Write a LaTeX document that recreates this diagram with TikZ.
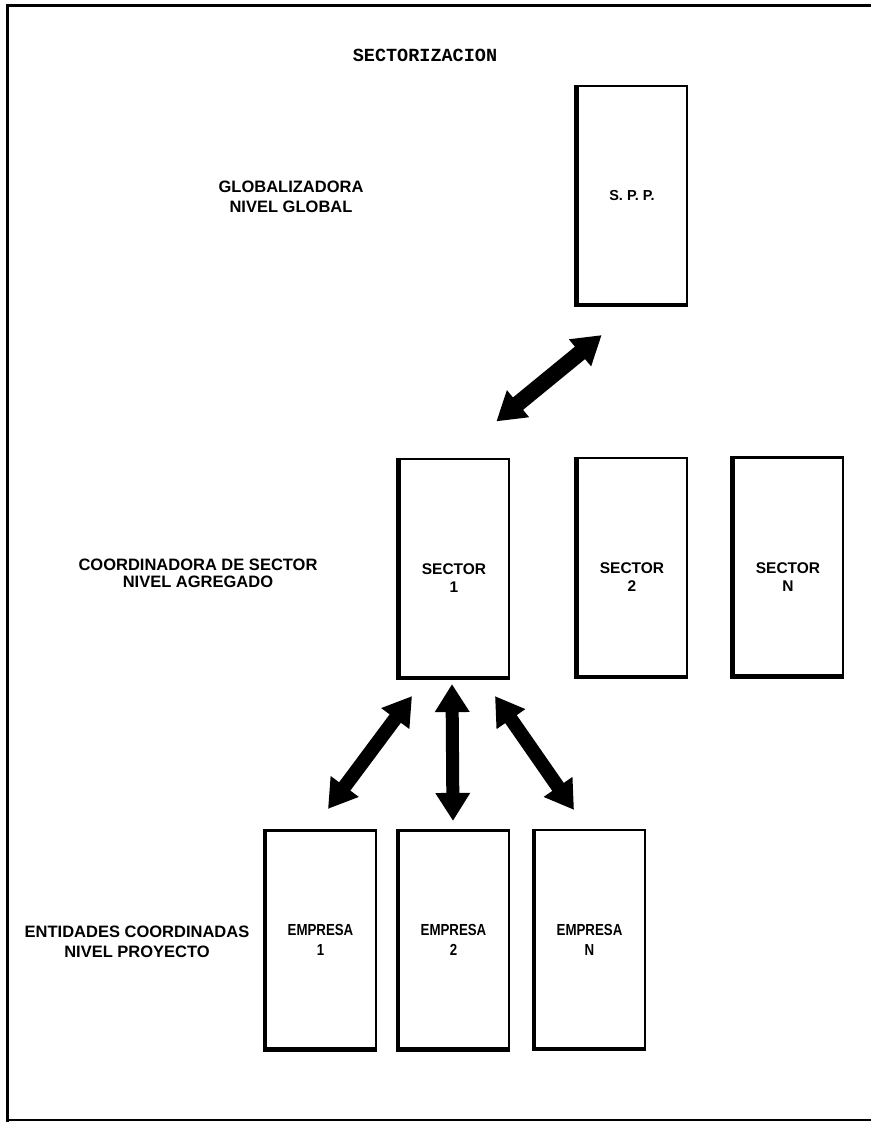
\documentclass[tikz,border=0pt]{standalone}
\usepackage{fontspec}
\setmainfont{Liberation Sans}
\newfontfamily\titlefont{Liberation Mono}
\newfontfamily\condfont[FakeStretch=0.83]{Liberation Sans}
\usetikzlibrary{arrows.meta,calc}
\begin{document}
\begin{tikzpicture}[x=1pt,y=-1pt,
  box/.style={draw,line width=2.2pt,minimum width=110.5pt,minimum height=219pt,inner sep=0pt,align=center},
  shadowline/.style={line width=4.5pt},
  side/.style={font=\bfseries\fontsize{16.5}{20}\selectfont,align=center,inner sep=0pt},
  sectxt/.style={font=\bfseries\fontsize{15.5}{18}\selectfont,align=center,inner sep=0pt},
  emptxt/.style={font=\condfont\bfseries\fontsize{16}{20}\selectfont},
  spptxt/.style={font=\bfseries\fontsize{14.5}{17}\selectfont},
  bigarrow/.style={line width=14pt,{Triangle[length=28pt,width=33pt]}-{Triangle[length=28pt,width=33pt]}},
  framebar/.style={line width=3pt}
]
\useasboundingbox (0,0) rectangle (871,1122);
% frame
\draw[framebar] (7,1122) -- (7,5) -- (871,5);
\draw[line width=1.6pt] (7,1120) -- (871,1120);

% title and level labels
\node[font=\titlefont\bfseries\fontsize{18.5}{20}\selectfont,inner sep=0pt] (title) at (425,55) {SECTORIZACION};
\node[side] (glob) at (291,197) {GLOBALIZADORA\\NIVEL GLOBAL};
\node[side,font=\bfseries\fontsize{16.5}{17}\selectfont] (coord) at (198,573.5) {COORDINADORA DE SECTOR\\NIVEL AGREGADO};
\node[side] (ent) at (137,942) {ENTIDADES COORDINADAS\\NIVEL PROYECTO};

% boxes
\node[box,spptxt] (spp) at (632,195.5) {S. P. P.};
\node[box,label={[sectxt,yshift=-10pt]center:{SECTOR\\1}}] (s1) at (454,568.5) {};
\node[box,label={[sectxt,yshift=-10pt]center:{SECTOR\\2}}] (s2) at (632,567.5) {};
\node[box,label={[sectxt,yshift=-10pt]center:{SECTOR\\N}}] (sn) at (788,567) {};
\node[box,emptxt] (e1) at (320.5,940) {EMPRESA\\1};
\node[box,emptxt] (e2) at (453.5,940) {EMPRESA\\2};
\node[box,emptxt] (en) at (589.5,939.5) {EMPRESA\\N};

% heavier left and bottom edges
\foreach \n in {spp,s1,s2,sn,e1,e2,en}
  \draw[shadowline] ($(\n.north west)+(1,0)$) -- ($(\n.south west)+(1,-1)$) -- ($(\n.south east)+(0,-1)$);

% arrow end points
\coordinate (a1s) at ($(s1.north east)+(-14,-36.5)$);
\coordinate (a1t) at ($(spp.south west)+(26,29)$);
\coordinate (a2s) at ($(s1.south)+(-42,17)$);
\coordinate (a2t) at ($(e1.north)+(7.5,-20.5)$);
\coordinate (a3s) at ($(s1.south)+(-2,5)$);
\coordinate (a3t) at ($(e2.north)+(-0.5,-8.5)$);
\coordinate (a4s) at ($(s1.south)+(41,17)$);
\coordinate (a4t) at ($(en.north)+(-15.5,-19)$);

\draw[bigarrow,line width=16pt] (a1s) -- (a1t);
\draw[bigarrow] (a2s) -- (a2t);
\draw[bigarrow,line width=13pt] (a3s) -- (a3t);
\draw[bigarrow] (a4s) -- (a4t);
\end{tikzpicture}
\end{document}
